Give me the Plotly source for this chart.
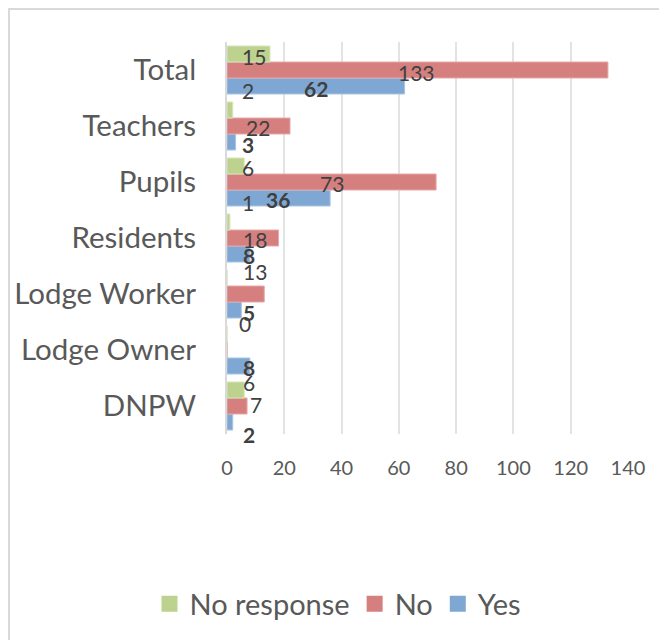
import plotly.graph_objects as go

# ---- data ----
categories = ["DNPW", "Lodge Owner", "Lodge Worker", "Residents", "Pupils", "Teachers", "Total"]
yes_values = [2, 8, 5, 8, 36, 3, 62]
no_values = [7, 0, 13, 18, 73, 22, 133]
noresp_values = [6, 0, 0, 1, 6, 2, 15]
x_ticks = [0, 20, 40, 60, 80, 100, 120, 140]

# ---- label placement (style only) ----
yes_lab_x = [7.7, 7.7, 7.7, 7.7, 17.8, 7.3, 31.1]
yes_lab_dy = [-28, -17, -18, -17, -17, -18, -18]
no_lab_x = [10.1, None, 9.8, 9.8, 36.7, 10.8, 66.3]
no_lab_dy = [2, None, 23, -1, -1, -1, -2]
nr_lab_x = [7.7, None, 6.3, 7.3, 7.3, 7.3, 9.4]
nr_lab_dy = [24, None, -29, 36, 15, 36, 14]

C_YES = "#7FA7D3"
C_NO = "#D57F7F"
C_NR = "#BDD28E"
FONT = "Lato"

fig = go.Figure()
series = [("Yes", yes_values, C_YES, "#A9C4E4"),
          ("No", no_values, C_NO, "#E6A9A9"),
          ("No response", noresp_values, C_NR, "#D6E4B8")]
for name, vals, col, edge in series:
    fig.add_trace(go.Bar(y=categories, x=vals, orientation="h", name=name, showlegend=False,
                         marker=dict(color=col, line=dict(color=edge, width=1))))
# legend entries (larger square swatches)
for name, vals, col, edge in series:
    fig.add_trace(go.Scatter(x=[None], y=[None], mode="markers", name=name, showlegend=True,
                             marker=dict(symbol="square", size=16, color=col, line=dict(width=0))))

annotations = []
def add_labels(values, xs, dys, bold):
    for cat, v, x, dy in zip(categories, values, xs, dys):
        if x is None:
            continue
        txt = f"<b>{v}</b>" if bold else str(v)
        annotations.append(dict(x=x, y=cat, xref="x", yref="y", text=txt, showarrow=False,
                                yshift=dy, font=dict(family=FONT, size=21, color="#404040")))

add_labels(noresp_values, nr_lab_x, nr_lab_dy, False)
add_labels(no_values, no_lab_x, no_lab_dy, False)
add_labels(yes_values, yes_lab_x, yes_lab_dy, True)

L, R, T, B = 227, 628, 42, 434
W, H = 659, 640
pw, ph = R - L, B - T

fig.update_layout(
    width=W, height=H,
    margin=dict(l=L, r=W - R, t=T, b=H - B, pad=0, autoexpand=False),
    paper_bgcolor="white", plot_bgcolor="white",
    barmode="group", bargap=0.143, bargroupgap=0,
    font=dict(family=FONT, color="#595959"),
    showlegend=True,
    legend=dict(orientation="h", traceorder="reversed", xref="container", yref="container",
                x=338 / W, xanchor="center", y=(H - 604) / H, yanchor="middle",
                font=dict(size=29, color="#595959"), itemwidth=30, itemsizing="trace"),
    annotations=annotations,
    shapes=[dict(type="rect", xref="paper", yref="paper",
                 x0=(9 - L) / pw, x1=(W + 40 - L) / pw,
                 y0=(B - (H + 40)) / ph, y1=(B - 9) / ph,
                 line=dict(color="#D9D9D9", width=2), fillcolor="rgba(0,0,0,0)", layer="below")],
)
fig.update_xaxes(range=[0, 140], autorange=False, tickvals=x_ticks, showgrid=True, gridcolor="#E3E3E3",
                 gridwidth=1.5, zeroline=False, showline=False, ticks="outside", ticklen=16,
                 tickcolor="rgba(0,0,0,0)", tickfont=dict(size=20, color="#595959"),
                 fixedrange=True, automargin=False)
fig.update_yaxes(type="category", categoryorder="array", categoryarray=categories,
                 range=[-0.5, len(categories) - 0.5], autorange=False,
                 showline=True, linecolor="#D9D9D9", linewidth=2, showgrid=False,
                 ticks="outside", ticklen=23, tickcolor="rgba(0,0,0,0)",
                 tickfont=dict(size=29.5, color="#595959"), fixedrange=True, automargin=False)

fig.write_html("out.html", config={"displayModeBar": False},
               post_script="document.body.style.margin='0';document.body.style.overflow='hidden';")
